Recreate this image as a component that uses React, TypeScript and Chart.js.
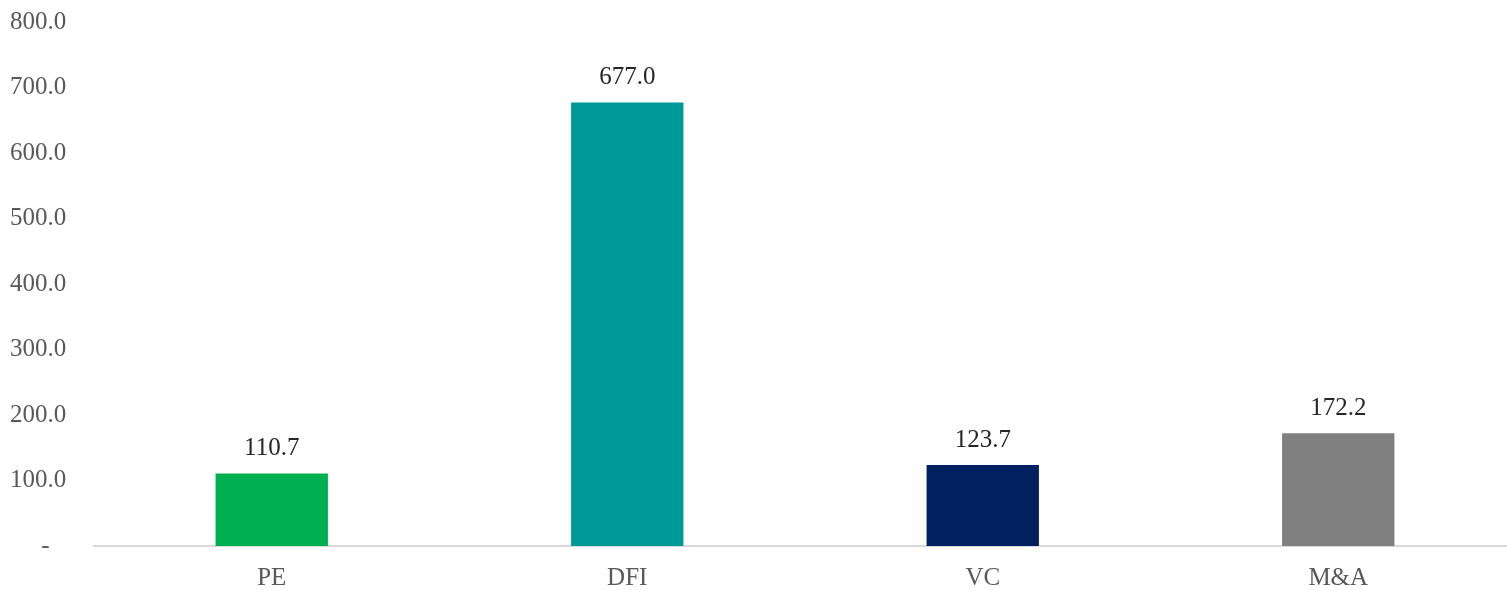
import React, { useEffect, useRef } from "react";
import { Chart, registerables } from "chart.js";

Chart.register(...registerables);

const categories = ["PE", "DFI", "VC", "M&A"];
const values = [110.7, 677.0, 123.7, 172.2];
const barColors = ["#00B050", "#009999", "#002060", "#808080"];
const yTicks = [0, 100, 200, 300, 400, 500, 600, 700, 800];

const FONT = "'Liberation Serif', 'Times New Roman', serif";

const dataLabelPlugin = {
  id: "dataLabels",
  afterDatasetsDraw(chart: any) {
    const ctx = chart.ctx;
    const meta = chart.getDatasetMeta(0);
    ctx.save();
    ctx.font = `25px ${FONT}`;
    ctx.fillStyle = "#262626";
    ctx.textAlign = "center";
    ctx.textBaseline = "middle";
    meta.data.forEach((el: any, i: number) => {
      ctx.fillText(values[i].toFixed(1), el.x, el.y - 25);
    });
    ctx.restore();
  },
};

export default function App() {
  const ref = useRef<HTMLCanvasElement | null>(null);
  useEffect(() => {
    if (!ref.current) return;
    const chart = new Chart(ref.current, {
      type: "bar",
      data: {
        labels: categories,
        datasets: [
          {
            data: values,
            backgroundColor: barColors,
            categoryPercentage: 1,
            barPercentage: 0.316,
          },
        ],
      },
      options: {
        animation: false,
        responsive: true,
        maintainAspectRatio: false,
        layout: { padding: { left: 10, top: 22, right: 0, bottom: 0 } },
        plugins: {
          legend: { display: false },
          tooltip: { enabled: false },
        },
        scales: {
          x: {
            grid: { display: false, drawTicks: false },
            border: { display: true, color: "#d9d9d9", width: 2 },
            ticks: {
              color: "#595959",
              font: { family: FONT, size: 25 },
              padding: 17,
            },
            afterFit: (axis: any) => {
              axis.height = 44;
            },
          },
          y: {
            min: 0,
            max: 800,
            grid: { display: false, drawTicks: false },
            border: { display: false },
            afterBuildTicks: (axis: any) => {
              axis.ticks = yTicks.map((v) => ({ value: v }));
            },
            afterFit: (axis: any) => {
              axis.width = 84;
            },
            ticks: {
              color: "#595959",
              font: { family: FONT, size: 25 },
              padding: 0,
              crossAlign: "far",
              callback: (v: any) => (Number(v) === 0 ? "     -" : Number(v).toFixed(1)),
            },
          },
        },
      },
      plugins: [dataLabelPlugin],
    });
    return () => chart.destroy();
  }, []);
  return (
    <div style={{ position: "absolute", left: 0, top: 0, width: 1507, height: 590, overflow: "hidden" }}>
      <div style={{ position: "absolute", left: 0, top: 0, width: 1516, height: 590 }}>
        <canvas ref={ref} />
      </div>
    </div>
  );
}
